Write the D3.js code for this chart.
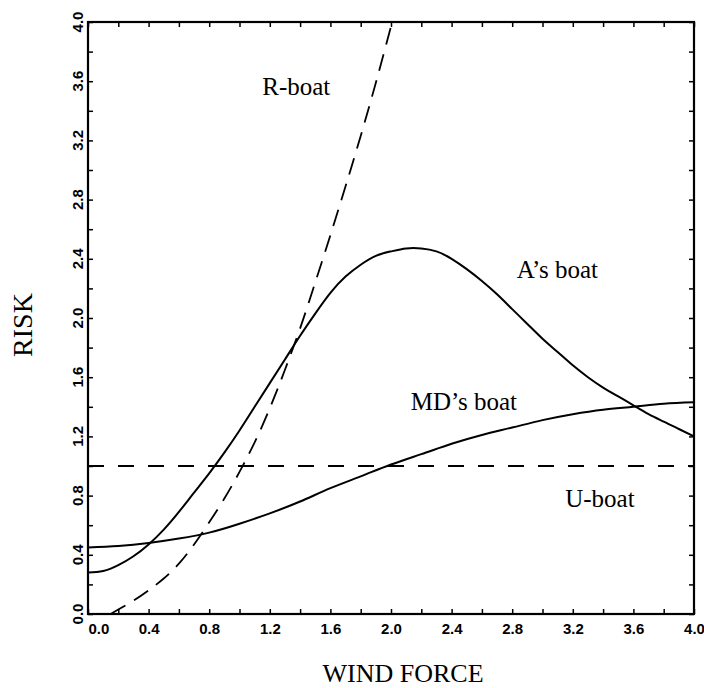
<!DOCTYPE html>
<html>
<head>
<meta charset="utf-8">
<script src="https://cdn.jsdelivr.net/npm/d3@7"></script>
<style>
  body { margin: 0; background: #fff; }
  .tick text { font-family: "Liberation Sans", Arial, sans-serif; font-weight: bold; font-size: 15px; }
  .lbl { font-family: "Liberation Serif", "Times New Roman", serif; font-size: 25px; }
</style>
</head>
<body>
<div id="chart-area"></div>
<script>
// wind force / risk curves
var aBoatX = [0.0, 0.1, 0.2, 0.3, 0.4, 0.5, 0.6, 0.7, 0.8, 0.9, 1.0, 1.1, 1.2, 1.3, 1.4, 1.5, 1.6, 1.7, 1.8, 1.9, 2.0,
              2.1, 2.2, 2.3, 2.4, 2.5, 2.6, 2.7, 2.8, 2.9, 3.0, 3.1, 3.2, 3.3, 3.4, 3.5, 3.6, 3.7, 3.8, 3.9, 4.0];
var aBoatY = [0.28, 0.29, 0.33, 0.39, 0.47, 0.57, 0.69, 0.82, 0.95, 1.09, 1.24, 1.40, 1.56, 1.72, 1.88, 2.03, 2.17, 2.28, 2.36, 2.42, 2.45,
              2.47, 2.47, 2.45, 2.40, 2.33, 2.25, 2.16, 2.06, 1.96, 1.86, 1.77, 1.68, 1.60, 1.53, 1.47, 1.41, 1.35, 1.30, 1.25, 1.20];

var mdBoatX = [0.0, 0.2, 0.4, 0.6, 0.8, 1.0, 1.2, 1.4, 1.6, 1.8, 2.0, 2.2, 2.4, 2.6, 2.8, 3.0, 3.2, 3.4, 3.6, 3.8, 4.0];
var mdBoatY = [0.45, 0.46, 0.48, 0.51, 0.55, 0.61, 0.68, 0.76, 0.85, 0.93, 1.01, 1.08, 1.15, 1.21, 1.26, 1.31, 1.35, 1.38, 1.40, 1.42, 1.43];

var rBoatX = [0.15, 0.2, 0.3, 0.4, 0.5, 0.6, 0.7, 0.8, 0.9, 1.0, 1.1, 1.2, 1.3, 1.4, 1.5, 1.6, 1.7, 1.8, 1.9, 2.0];
var rBoatY = [0.0, 0.03, 0.09, 0.16, 0.24, 0.34, 0.47, 0.62, 0.78, 0.96, 1.16, 1.39, 1.65, 1.93, 2.24, 2.56, 2.89, 3.23, 3.59, 3.97];

var uBoatX = [0.0, 4.0];
var uBoatY = [1.0, 1.0];

var tickValues = [0.0, 0.4, 0.8, 1.2, 1.6, 2.0, 2.4, 2.8, 3.2, 3.6, 4.0];
var tickLabels = ["0.0", "0.4", "0.8", "1.2", "1.6", "2.0", "2.4", "2.8", "3.2", "3.6", "4.0"];

var curveNames = ["R-boat", "A\u2019s boat", "MD\u2019s boat", "U-boat"];
var labelX = [1.15, 2.83, 2.13, 3.15];
var labelY = [3.51, 2.27, 1.38, 0.72];

var margin = { left:88, right:10, top:22, bottom:74 };
var width = 704 - margin.left - margin.right;
var height = 688 - margin.top - margin.bottom;

var svg = d3.select("#chart-area")
	.append("svg")
	.attr("width", 704)
	.attr("height", 688);

var g = svg.append("g")
	.attr("transform", "translate(" + margin.left + ", " + margin.top + ")");

var x = d3.scaleLinear().domain([0, 4]).range([0, width]);
var y = d3.scaleLinear().domain([0, 4]).range([height, 0]);

var minorTicks = d3.range(0, 21).map(function(i){ return i * 0.2; });

// inward ticks on all four sides
function tickFmt(d){
	var i = tickValues.findIndex(function(t){ return Math.abs(t - d) < 1e-6; });
	return i >= 0 ? tickLabels[i] : "";
}

var xAxis = g.append("g")
	.attr("transform", "translate(0, " + height + ")")
	.call(d3.axisBottom(x).tickValues(minorTicks).tickSize(-5).tickPadding(9).tickFormat(tickFmt));
xAxis.select(".domain").remove();
// first label sits right of its tick
xAxis.selectAll(".tick text").filter(function(d){ return d === 0; })
	.attr("text-anchor", "start");

var xTop = g.append("g")
	.call(d3.axisTop(x).tickValues(minorTicks).tickSize(-5).tickFormat(""));
xTop.select(".domain").remove();

var yAxis = g.append("g")
	.call(d3.axisLeft(y).tickValues(minorTicks).tickSize(-5).tickFormat(""));
yAxis.select(".domain").remove();

var yRight = g.append("g")
	.attr("transform", "translate(" + width + ", 0)")
	.call(d3.axisRight(y).tickValues(minorTicks).tickSize(-5).tickFormat(""));
yRight.select(".domain").remove();

g.selectAll(".tick line").attr("stroke", "#000").attr("stroke-width", 1.5);

// rotated y tick labels
g.selectAll(".ylab")
	.data(tickValues)
	.enter()
	.append("text")
		.attr("class", "ylab")
		.attr("transform", function(d){ return "translate(-5, " + y(d) + ") rotate(-90)"; })
		.attr("text-anchor", "middle")
		.attr("font-family", "Liberation Sans, Arial, sans-serif")
		.attr("font-weight", "bold")
		.attr("font-size", "15px")
		.text(function(d, i){ return tickLabels[i]; });

// frame
g.append("rect")
	.attr("x", 0)
	.attr("y", 0)
	.attr("width", width)
	.attr("height", height)
	.attr("fill", "none")
	.attr("stroke", "#000")
	.attr("stroke-width", 2.2);

var line = d3.line()
	.x(function(d){ return x(d[0]); })
	.y(function(d){ return y(d[1]); })
	.curve(d3.curveNatural);

function pairs(xs, ys){ return xs.map(function(v, i){ return [v, ys[i]]; }); }

g.append("path")
	.datum(pairs(aBoatX, aBoatY))
	.attr("d", line)
	.attr("fill", "none")
	.attr("stroke", "#000")
	.attr("stroke-width", 2);

g.append("path")
	.datum(pairs(mdBoatX, mdBoatY))
	.attr("d", line)
	.attr("fill", "none")
	.attr("stroke", "#000")
	.attr("stroke-width", 2);

g.append("path")
	.datum(pairs(rBoatX, rBoatY))
	.attr("d", line)
	.attr("fill", "none")
	.attr("stroke", "#000")
	.attr("stroke-width", 1.8)
	.attr("stroke-dasharray", "17,10");

g.append("path")
	.datum(pairs(uBoatX, uBoatY))
	.attr("d", line)
	.attr("fill", "none")
	.attr("stroke", "#000")
	.attr("stroke-width", 2)
	.attr("stroke-dasharray", "16,14");

// curve names
g.selectAll(".lbl")
	.data(curveNames)
	.enter()
	.append("text")
		.attr("class", "lbl")
		.attr("x", function(d, i){ return x(labelX[i]); })
		.attr("y", function(d, i){ return y(labelY[i]); })
		.text(function(d){ return d; });

// axis titles
svg.append("text")
	.attr("x", 403)
	.attr("y", 682)
	.attr("text-anchor", "middle")
	.attr("font-family", "Liberation Serif, Times New Roman, serif")
	.attr("font-size", "26px")
	.text("WIND FORCE");

svg.append("text")
	.attr("transform", "translate(32, 325) rotate(-90)")
	.attr("text-anchor", "middle")
	.attr("font-family", "Liberation Serif, Times New Roman, serif")
	.attr("font-size", "28px")
	.text("RISK");
</script>
</body>
</html>
